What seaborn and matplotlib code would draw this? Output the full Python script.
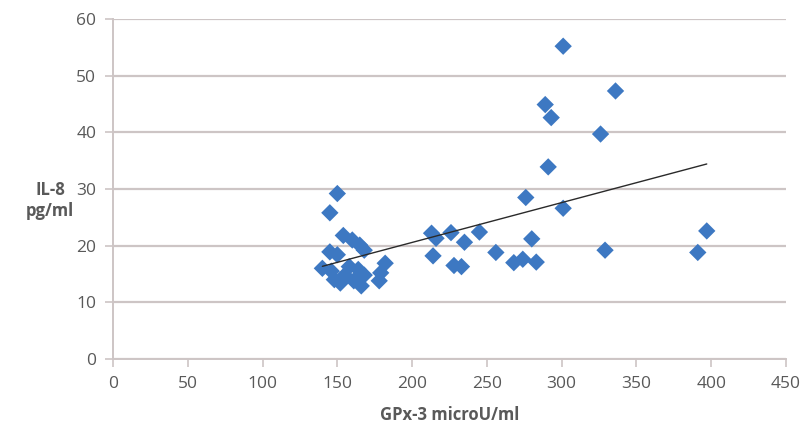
import numpy as np
import pandas as pd
import matplotlib
matplotlib.use("Agg")
import matplotlib.pyplot as plt
import seaborn as sns

# GPx-3 activity (microU/ml) and IL-8 concentration (pg/ml) per subject
gpx3 = [140, 145, 150, 145, 150, 146, 148, 152, 154, 155, 158, 160, 161, 165,
        166, 168, 168, 164, 178, 179, 182,
        213, 216, 214, 226, 228, 233, 235, 245, 256, 268, 274, 276, 280, 283,
        289, 293, 291, 301, 301, 326, 329, 336, 391, 397]
il8 = [16.0, 25.8, 29.2, 18.9, 18.4, 15.5, 14.0, 13.4, 21.8, 14.8, 16.3, 21.0,
       13.8, 20.1, 12.9, 19.2, 14.8, 15.8, 13.8, 15.2, 16.9,
       22.2, 21.3, 18.2, 22.3, 16.5, 16.3, 20.6, 22.4, 18.8, 17.0, 17.6, 28.5,
       21.2, 17.1,
       44.9, 42.6, 33.9, 55.2, 26.6, 39.7, 19.2, 47.3, 18.8, 22.6]

x_ticks = [0, 50, 100, 150, 200, 250, 300, 350, 400, 450]
y_ticks = [0, 10, 20, 30, 40, 50, 60]

df = pd.DataFrame({"gpx3": gpx3, "il8": il8})

# least-squares trend line over the observed GPx-3 range
slope, intercept = np.polyfit(df["gpx3"], df["il8"], 1)
trend = pd.DataFrame({"gpx3": [df["gpx3"].min(), df["gpx3"].max()]})
trend["il8"] = slope * trend["gpx3"] + intercept

sns.set_theme(style="white")
plt.rcParams["font.family"] = ["Open Sans", "DejaVu Sans"]

fig = plt.figure(figsize=(8.07, 4.32), dpi=100)
ax = fig.add_axes([0.140, 0.169, 0.834, 0.787])

grid_col = "#cdc5c5"
text_col = "#595959"

sns.scatterplot(data=df, x="gpx3", y="il8", marker="D", s=78,
                color="#3d78c2", edgecolor="none", ax=ax, zorder=3)
sns.lineplot(data=trend, x="gpx3", y="il8", color="#2a2a2a", lw=1.0,
             ax=ax, zorder=4)

ax.set_xlim(0, 450)
ax.set_ylim(0, 60)
ax.set_xticks(x_ticks)
ax.set_yticks(y_ticks)
ax.yaxis.grid(True, color=grid_col, lw=1.6)
ax.xaxis.grid(False)
ax.set_axisbelow(True)

for side in ("top", "right"):
    ax.spines[side].set_visible(False)
for side in ("left", "bottom"):
    ax.spines[side].set_color(grid_col)
    ax.spines[side].set_linewidth(1.4)

ax.tick_params(axis="both", which="major", direction="out", length=6,
               width=1.2, color=grid_col, labelsize=12.5, labelcolor=text_col,
               pad=6, left=True, bottom=True)

ax.set_xlabel("GPx-3 microU/ml", fontsize=12, fontweight="bold",
              color=text_col, labelpad=10)
ax.set_ylabel("")
fig.text(0.062, 0.535, "IL-8\npg/ml", ha="center", va="center",
         fontsize=12, fontweight="bold", color=text_col, linespacing=1.2)

fig.savefig("out.png", dpi=100)
